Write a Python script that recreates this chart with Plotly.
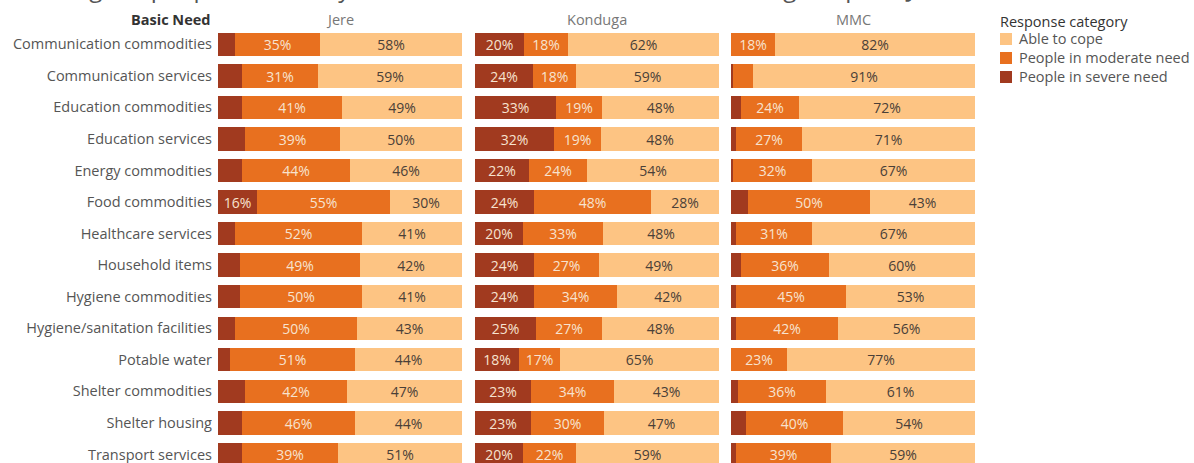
import plotly.graph_objects as go

# Basic needs, top to bottom
needs = [
    "Communication commodities", "Communication services", "Education commodities",
    "Education services", "Energy commodities", "Food commodities",
    "Healthcare services", "Household items", "Hygiene commodities",
    "Hygiene/sanitation facilities", "Potable water", "Shelter commodities",
    "Shelter housing", "Transport services",
]

lgas = ["Jere", "Konduga", "MMC"]

# Percent of respondents per response category, by LGA
jere_severe = [7, 10, 10, 11, 10, 16, 7, 9, 9, 7, 5, 11, 10, 10]
jere_moderate = [35, 31, 41, 39, 44, 55, 52, 49, 50, 50, 51, 42, 46, 39]
jere_cope = [58, 59, 49, 50, 46, 30, 41, 42, 41, 43, 44, 47, 44, 51]

konduga_severe = [20, 24, 33, 32, 22, 24, 20, 24, 24, 25, 18, 23, 23, 20]
konduga_moderate = [18, 18, 19, 19, 24, 48, 33, 27, 34, 27, 17, 34, 30, 22]
konduga_cope = [62, 59, 48, 48, 54, 28, 48, 49, 42, 48, 65, 43, 47, 59]

mmc_severe = [0, 1, 4, 2, 1, 7, 2, 4, 2, 2, 0, 3, 6, 2]
mmc_moderate = [18, 8, 24, 27, 32, 50, 31, 36, 45, 42, 23, 36, 40, 39]
mmc_cope = [82, 91, 72, 71, 67, 43, 67, 60, 53, 56, 77, 61, 54, 59]

categories = ["People in severe need", "People in moderate need", "Able to cope"]
colors = ["#a13a1f", "#e8701f", "#fdc483"]
text_colors = ["#f7e3cf", "#f7e3cf", "#4a4038"]

panels = {
    "Jere": [jere_severe, jere_moderate, jere_cope],
    "Konduga": [konduga_severe, konduga_moderate, konduga_cope],
    "MMC": [mmc_severe, mmc_moderate, mmc_cope],
}

FONT = "Open Sans"
FS = 14.5
FS_VAL = 14
W, H = 1194, 463
ML = 218
PW = W - ML


def px_x(px):
    return (px - ML) / PW


def px_y(py):
    return 1 - py / H


# panel extents in pixels
panel_px = [(218, 462), (475, 719), (731, 975)]
domains = [[px_x(a), px_x(b)] for a, b in panel_px]

fig = go.Figure()

for p, lga in enumerate(lgas):
    series = panels[lga]
    totals = [sum(s[i] for s in series) for i in range(len(needs))]
    axis = "x" if p == 0 else f"x{p + 1}"
    for c, cat in enumerate(categories):
        vals = series[c]
        share = [v / t * 100 for v, t in zip(vals, totals)]
        labels = [f"{v}%" if v >= 13 else "" for v in vals]
        fig.add_trace(go.Bar(
            y=needs, x=share, orientation="h",
            name=cat, showlegend=False,
            marker=dict(color=colors[c], line=dict(width=0)),
            text=labels, textposition="inside", insidetextanchor="middle",
            textangle=0, constraintext="none",
            textfont=dict(family=FONT, size=FS_VAL, color=text_colors[c]),
            width=0.74, xaxis=axis, yaxis="y",
            hovertemplate=lga + "<br>%{y}<br>" + cat + ": %{text}<extra></extra>",
        ))

# rows: first centre at 44.3 px, spacing 31.55 px
row0, step = 44.3, 31.55
y_top = -row0 / step
y_bot = (H - row0) / step

layout_axes = {}
for p in range(3):
    key = "xaxis" if p == 0 else f"xaxis{p + 1}"
    layout_axes[key] = dict(
        domain=domains[p], range=[0, 100], showgrid=False, zeroline=False,
        showticklabels=False, showline=False, fixedrange=True,
        anchor="y",
    )

fig.update_layout(
    width=W, height=H,
    margin=dict(l=ML, r=0, t=0, b=0),
    paper_bgcolor="white", plot_bgcolor="white",
    barmode="stack", bargap=0,
    font=dict(family=FONT, size=FS, color="#555555"),
    showlegend=False,
    yaxis=dict(
        categoryorder="array", categoryarray=needs,
        range=[y_bot, y_top], showgrid=False, zeroline=False, showline=False,
        ticks="", ticklabelstandoff=5,
        tickfont=dict(family=FONT, size=FS, color="#555555"),
        fixedrange=True,
    ),
    **layout_axes,
)

header_y = px_y(19)
fig.add_annotation(
    text="<b>Basic Need</b>", xref="paper", yref="paper",
    x=px_x(212), y=header_y, xanchor="right", yanchor="middle",
    showarrow=False, font=dict(family=FONT, size=FS, color="#333333"),
)
for p, lga in enumerate(lgas):
    fig.add_annotation(
        text=lga, xref="paper", yref="paper",
        x=sum(domains[p]) / 2, y=header_y, xanchor="center", yanchor="middle",
        showarrow=False, font=dict(family=FONT, size=FS, color="#777777"),
    )

# legend: swatch + label per response category, listed top to bottom
fig.add_annotation(
    text="Response category", xref="paper", yref="paper",
    x=px_x(998), y=px_y(21), xanchor="left", yanchor="middle",
    showarrow=False, font=dict(family=FONT, size=FS, color="#333333"),
)
legend_rows = [39, 58, 77]
for k, c in enumerate(reversed(range(len(categories)))):
    cy = legend_rows[k]
    fig.add_shape(
        type="rect", xref="paper", yref="paper",
        x0=px_x(1000), x1=px_x(1012), y0=px_y(cy - 6), y1=px_y(cy + 6),
        fillcolor=colors[c], line=dict(width=0),
    )
    fig.add_annotation(
        text=categories[c], xref="paper", yref="paper",
        x=px_x(1017), y=px_y(cy), xanchor="left", yanchor="middle",
        showarrow=False, font=dict(family=FONT, size=FS, color="#555555"),
    )

# chart title, sitting mostly above the visible area
fig.add_annotation(
    text="Percentage of people in need by basic need and LGA, assessed sites, Nigeria pilot, June 2024",
    xref="paper", yref="paper", x=px_x(-12), y=px_y(6),
    xanchor="left", yanchor="bottom", showarrow=False,
    font=dict(family=FONT, size=24, color="#555555"),
)

fig.write_html("out.html")
